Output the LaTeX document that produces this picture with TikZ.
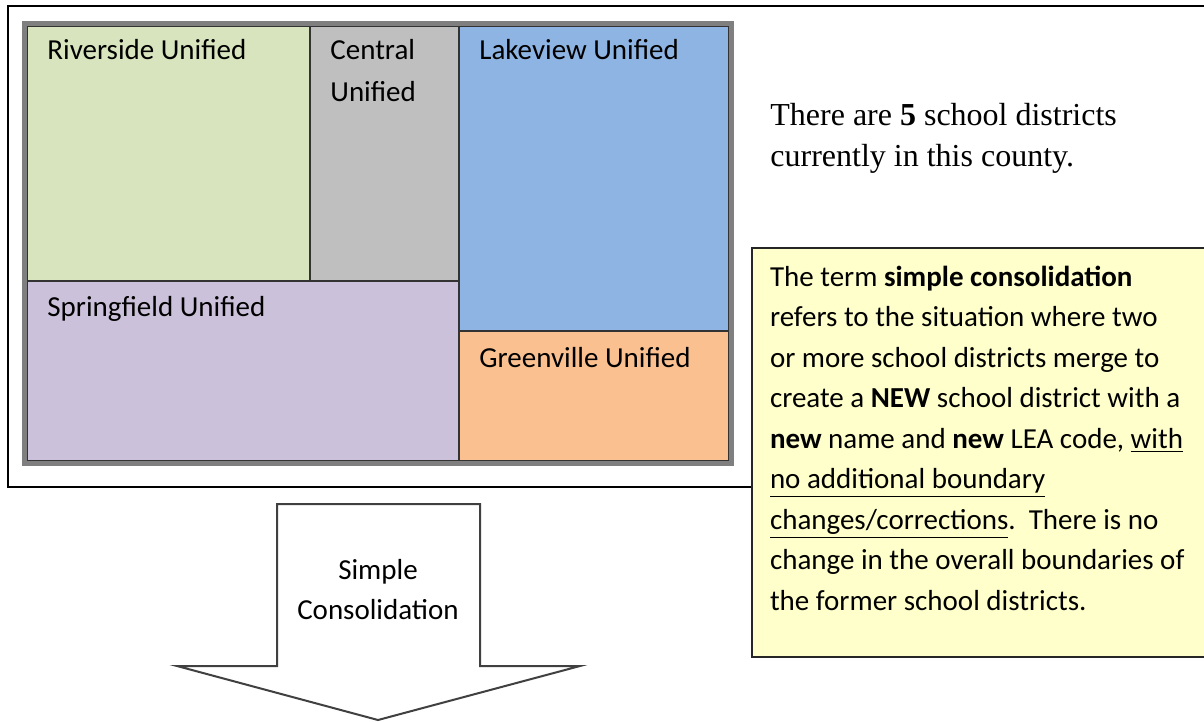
\documentclass[tikz,border=0pt]{standalone}
\usepackage{fontspec}
\newfontfamily\calib{Carlito}
\newfontfamily\timesf{Liberation Serif}
\usetikzlibrary{positioning}
\definecolor{rivergreen}{HTML}{D7E4BD}
\definecolor{centralgray}{HTML}{BFBFBF}
\definecolor{lakeblue}{HTML}{8EB4E3}
\definecolor{springlilac}{HTML}{CCC1DA}
\definecolor{greenorange}{HTML}{FAC090}
\definecolor{noteyellow}{HTML}{FFFFCC}
\definecolor{framegray}{HTML}{7F7F7F}
\begin{document}
\begin{tikzpicture}[x=0.5pt, y=-0.5pt,
	district/.style={draw=black!80, line width=0.75pt, inner sep=0, outer sep=0, anchor=north west},
	dname/.style={font=\calib\fontsize{14.5}{21}\selectfont, align=left, anchor=north west, inner sep=0}]
	\useasboundingbox (0,0) rectangle (1204,722);
	\draw[line width=0.75pt] (8,6) rectangle (1230,487);
	\node[district, fill=rivergreen, minimum width=141.5pt, minimum height=127.5pt] (riverside) at (27,26) {};
	\node[district, fill=centralgray, minimum width=74.5pt, minimum height=127.5pt] (central) at (riverside.north east) {};
	\node[district, fill=lakeblue, minimum width=135pt, minimum height=152.5pt] (lakeview) at (central.north east) {};
	\node[district, fill=springlilac, minimum width=216pt, minimum height=90pt] (springfield) at (riverside.south west) {};
	\node[district, fill=greenorange, minimum width=135pt, minimum height=65pt] (greenville) at (lakeview.south west) {};
	\draw[framegray, line width=2.5pt] ([shift={(-2.5,-2.5)}]riverside.north west) rectangle ([shift={(2.5,2.5)}]greenville.south east);
	\node[dname, below right=6.5pt and 10pt of riverside.north west] (rivername) {Riverside Unified};
	\node[dname, below right=6.5pt and 10pt of central.north west] (centralname) {Central\\Unified};
	\node[dname, below right=6.5pt and 10pt of lakeview.north west] (lakename) {Lakeview Unified};
	\node[dname, below right=7.5pt and 10pt of springfield.north west] (springname) {Springfield Unified};
	\node[dname, below right=8pt and 10pt of greenville.north west] (greenname) {Greenville Unified};
	\node[font=\timesf\fontsize{16}{20.5}\selectfont, align=left, anchor=north west, inner sep=0] (count) at (770,103) {There are \textbf{5} school districts\\currently in this county.};
	\node[draw=black!85, line width=0.75pt, fill=noteyellow, anchor=north west, inner sep=9pt, outer sep=0] (note) at (752,248) {\parbox[t][186.5pt][t]{240pt}{\calib\fontsize{14.5}{20.25}\selectfont\raggedright
		The term \textbf{simple consolidation}\\
		refers to the situation where two\\
		or more school districts merge to\\
		create a \textbf{NEW} school district with a\\
		\textbf{new} name and \textbf{new} LEA code, \underline{with}\\
		\underline{no additional boundary}\\
		\underline{changes/corrections}.\ \ There is no\\
		change in the overall boundaries of\\
		the former school districts.}};
	\draw[black!75, line width=1pt, line join=miter] (277,504) -- (480,504) -- (480,666) -- (580,666) -- (378,720) -- (177,666) -- (277,666) -- cycle;
	\node[font=\calib\fontsize{14.5}{20}\selectfont, align=center, inner sep=0] (consol) at (378,590) {Simple\\Consolidation};
\end{tikzpicture}
\end{document}
